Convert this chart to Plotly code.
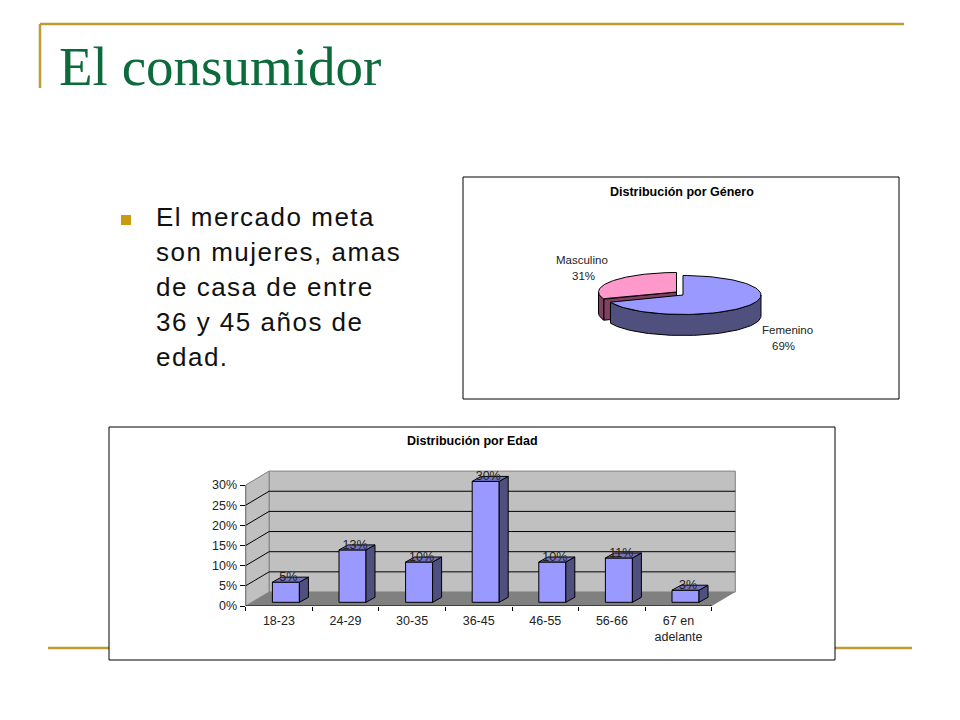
"""El consumidor slide: gender pie and age bars, faked 3D like the old Excel charts."""

import numpy as np
import plotly.graph_objects as go

age_labels = ["18-23", "24-29", "30-35", "36-45", "46-55", "56-66", "67 en<br>adelante"]
age_values = [5, 13, 10, 30, 10, 11, 3]
age_ticks = [0, 5, 10, 15, 20, 25, 30]

gender_labels = ["Femenino", "Masculino"]
gender_values = [69, 31]

body_lines = ["El mercado meta", "son mujeres, amas", "de casa de entre", "36 y 45 años de", "edad."]

GOLD = "#BF9B30"
W, H = 960, 720


def px(x, y):
    return x / W, 1 - y / H


fig = go.Figure()

# slide furniture
frame = dict(type="line", xref="paper", yref="paper", layer="below", line=dict(color=GOLD, width=2.5))
for x0, y0, x1, y1 in [(40, 24, 904, 24), (40, 24, 40, 88), (48, 648, 912, 648)]:
    a, b = px(x0, y0)
    c, d = px(x1, y1)
    fig.add_shape(x0=a, y0=b, x1=c, y1=d, **frame)

for x0, y0, x1, y1 in [(463, 177, 899, 399), (109, 427, 835, 660)]:
    a, b = px(x0, y0)
    c, d = px(x1, y1)
    fig.add_shape(type="rect", xref="paper", yref="paper", layer="below", x0=a, y0=b, x1=c, y1=d,
                  fillcolor="white", line=dict(color="black", width=1))

a, b = px(121, 215)
c, d = px(131, 225)
fig.add_shape(type="rect", xref="paper", yref="paper", x0=a, y0=b, x1=c, y1=d, fillcolor="#C89B10", line_width=0)


def text(x, y, s, size, color="#222222", font="Liberation Sans", anchor="center", bold=False):
    a, b = px(x, y)
    fig.add_annotation(x=a, y=b, xref="paper", yref="paper", text=f"<b>{s}</b>" if bold else s, showarrow=False,
                       xanchor=anchor, yanchor="middle", font=dict(size=size, color=color, family=font))


text(57, 66, "El consumidor", 55, color="#0B6B3A", font="Liberation Serif", anchor="left")
for i, line in enumerate(body_lines):
    text(155, 217 + i * 35, line, 26, color="#111111", anchor="left")
text(682, 192, "Distribución por Género", 12.5, color="black", bold=True)
text(472, 441, "Distribución por Edad", 12.5, color="black", bold=True)

# bar chart scale: one category is 66.6 px, one percent is 4.03 px
CAT = 66.6
PCT = 4.03
DX = 23.5 / CAT
DY = 14 / PCT
BAR_W = 27 / CAT
BAR_DX = 9 / CAT
BAR_DY = 5 / PCT
SHIFT_X = 7 / CAT
SHIFT_Y = 3.7 / PCT
n = len(age_values)
xs = np.arange(n)

wall = dict(xref="x", yref="y", layer="below")
top_pct = age_ticks[-1]
left, right = -0.5, n - 0.5

fig.add_shape(type="path", path=f"M {left} 0 L {left + DX} {DY} L {right + DX} {DY} L {right} 0 Z",
              fillcolor="#808080", line_width=0, **wall)
fig.add_shape(type="path",
              path=f"M {left + DX} {DY} L {right + DX} {DY} L {right + DX} {DY + top_pct} L {left + DX} {DY + top_pct} Z",
              fillcolor="#C0C0C0", line=dict(color="#808080", width=1), **wall)
fig.add_shape(type="path",
              path=f"M {left} 0 L {left + DX} {DY} L {left + DX} {DY + top_pct} L {left} {top_pct} Z",
              fillcolor="#C0C0C0", line=dict(color="#808080", width=1), **wall)
for v in age_ticks[1:-1]:
    fig.add_shape(type="line", x0=left + DX, x1=right + DX, y0=v + DY, y1=v + DY,
                  line=dict(color="black", width=1), **wall)
    fig.add_shape(type="line", x0=left, x1=left + DX, y0=v, y1=v + DY,
                  line=dict(color="black", width=1), **wall)
fig.add_shape(type="line", x0=left, x1=left, y0=0, y1=top_pct, line=dict(color="black", width=1), **wall)
fig.add_shape(type="line", x0=left, x1=right, y0=0, y1=0, line=dict(color="black", width=1), **wall)

fig.add_trace(go.Bar(x=xs + SHIFT_X, y=age_values, base=SHIFT_Y, width=BAR_W, marker=dict(color="#9999FF", line=dict(color="black", width=1)),
                     xaxis="x", yaxis="y", hoverinfo="skip"))

side_x, side_y, top_x, top_y = [], [], [], []
for x, v in zip(xs + SHIFT_X, age_values):
    r = x + BAR_W / 2
    l = x - BAR_W / 2
    t = v + SHIFT_Y
    side_x += [r, r + BAR_DX, r + BAR_DX, r, r, None]
    side_y += [t, t + BAR_DY, SHIFT_Y + BAR_DY, SHIFT_Y, t, None]
    top_x += [l, r, r + BAR_DX, l + BAR_DX, l, None]
    top_y += [t, t, t + BAR_DY, t + BAR_DY, t, None]
for fx, fy, color in [(side_x, side_y, "#50507F"), (top_x, top_y, "#7373BF")]:
    fig.add_trace(go.Scatter(x=fx, y=fy, mode="lines", fill="toself", fillcolor=color,
                             line=dict(color="black", width=1), xaxis="x", yaxis="y", hoverinfo="skip"))

fig.add_trace(go.Scatter(x=xs + SHIFT_X + 2.5 / CAT, y=np.array(age_values) + SHIFT_Y + 4.5 / PCT, mode="text",
                         text=[f"{v}%" for v in age_values], textfont=dict(size=12.5, color="#222222", family="Liberation Sans"),
                         xaxis="x", yaxis="y", hoverinfo="skip"))

# pie: unit ellipse, squashed by the two axis ranges
RX = 78
RY = 19.5
DEPTH = 21 / RY
OFF_X = -6.5 / RX
OFF_Y = 3 / RY
share_end = 2 * np.pi * gender_values[0] / sum(gender_values)


def arc(t0, t1, dx=0.0, dy=0.0):
    t = np.linspace(t0, t1, 80)
    return np.sin(t) + dx, np.cos(t) + dy


def poly(xv, yv, color):
    fig.add_trace(go.Scatter(x=list(xv) + [xv[0]], y=list(yv) + [yv[0]], mode="lines", fill="toself", fillcolor=color,
                             line=dict(color="black", width=1), xaxis="x2", yaxis="y2", hoverinfo="skip"))


def rim(t0, t1, dx, dy, color):
    ax, ay = arc(t0, t1, dx, dy)
    poly(np.r_[ax, ax[::-1]], np.r_[ay, ay[::-1] - DEPTH], color)


tip_x, tip_y = np.sin(share_end) + OFF_X, np.cos(share_end) + OFF_Y
rim(share_end, 1.5 * np.pi, OFF_X, OFF_Y, "#804060")
poly([OFF_X, tip_x, tip_x, OFF_X], [OFF_Y, tip_y, tip_y - DEPTH, OFF_Y - DEPTH], "#804060")
mx, my = arc(share_end, 2 * np.pi, OFF_X, OFF_Y)
poly(np.r_[OFF_X, mx], np.r_[OFF_Y, my], "#FF99CC")
rim(0.5 * np.pi, share_end, 0, 0, "#50507F")
fx, fy = arc(0, share_end)
poly(np.r_[0, fx], np.r_[0, fy], "#9999FF")

text(787, 330, gender_labels[0], 11.5)
text(783, 346, f"{gender_values[0]}%", 11.5)
text(582, 260, gender_labels[1], 11.5)
text(583, 276, f"{gender_values[1]}%", 11.5)

tick_font = dict(size=12.5, color="#222222", family="Liberation Sans")
fig.update_layout(
    width=W, height=H, margin=dict(l=0, r=0, t=0, b=0, autoexpand=False), paper_bgcolor="white", plot_bgcolor="rgba(0,0,0,0)",
    showlegend=False, barmode="overlay",
    xaxis=dict(domain=[245.6 / W, 745.6 / W], range=[left, left + 500 / CAT], tickvals=list(xs), ticktext=age_labels,
               ticks="", showline=False, showgrid=False, zeroline=False, tickfont=tick_font, tickangle=0, ticklabelstandoff=5,
               minor=dict(tickvals=[left + i for i in range(n + 1)], ticks="outside", ticklen=4, tickcolor="black", showgrid=False)),
    yaxis=dict(domain=[1 - 606 / H, 1 - 460 / H], range=[0, 146 / PCT], tickvals=age_ticks, ticktext=[f"{v}%" for v in age_ticks],
               ticks="outside", ticklen=5, tickcolor="black", showline=False, showgrid=False, zeroline=False, tickfont=tick_font),
    xaxis2=dict(domain=[(683 - 1.3 * RX) / W, (683 + 1.3 * RX) / W], range=[-1.3, 1.3], visible=False),
    yaxis2=dict(domain=[1 - (295 + 3 * RY) / H, 1 - (295 - 2 * RY) / H], range=[-3, 2], visible=False),
)

# the slide text is tracked wider than any installed font; tracking moves the centred text, so put it back
spacing = """
document.body.style.margin='0';
document.querySelectorAll('.annotation-text').forEach(function (t) {
  if (t.style.fontSize === '26px') {
    t.style.letterSpacing = '1.5px';
    var dx = 156 - t.getBoundingClientRect().left;
    t.setAttribute('x', parseFloat(t.getAttribute('x')) + dx);
  }
});
"""
fig.write_html("out.html", config=dict(displayModeBar=False), post_script=spacing)
